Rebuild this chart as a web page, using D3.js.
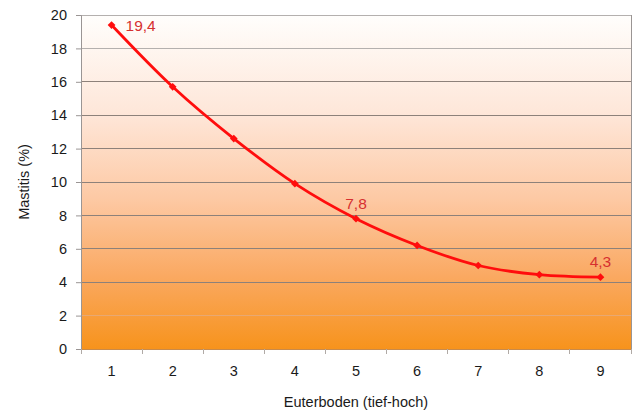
<!DOCTYPE html>
<html>
<head>
<meta charset="utf-8">
<script src="https://cdn.jsdelivr.net/npm/d3@7/dist/d3.min.js"></script>
<style>
  html, body { margin: 0; padding: 0; background: #fff; }
  svg { display: block; font-family: "Liberation Sans", Arial, sans-serif; }
</style>
</head>
<body>
<svg id="chart" width="634" height="414"></svg>
<script>
// Mastitis rate by udder floor height score
const categories = [1, 2, 3, 4, 5, 6, 7, 8, 9];
const mastitis = [19.4, 15.7, 12.6, 9.9, 7.8, 6.2, 5.0, 4.45, 4.3];
const yTicks = [0, 2, 4, 6, 8, 10, 12, 14, 16, 18, 20];
const labelled = [
  { cat: 1, value: 19.4, text: "19,4", pos: "right" },
  { cat: 5, value: 7.8, text: "7,8", pos: "above" },
  { cat: 9, value: 4.3, text: "4,3", pos: "above" }
];

const svg = d3.select("#chart");
const plot = { left: 81, right: 631, top: 15, bottom: 349 };

const x = d3.scaleBand().domain(categories).range([plot.left, plot.right]);
const y = d3.scaleLinear().domain([0, 20]).range([plot.bottom, plot.top]);

// background gradient of the plot area
const defs = svg.append("defs");
const grad = defs.append("linearGradient")
  .attr("id", "bg").attr("x1", 0).attr("y1", 0).attr("x2", 0).attr("y2", 1);
[[0, "#fffefc"], [0.3, "#fee6d8"], [0.55, "#fdc9a4"], [0.78, "#faa962"], [1, "#f7931c"]]
  .forEach(([o, c]) => grad.append("stop").attr("offset", o).attr("stop-color", c));

svg.append("rect")
  .attr("x", plot.left).attr("y", plot.top)
  .attr("width", plot.right - plot.left).attr("height", plot.bottom - plot.top)
  .attr("fill", "url(#bg)");

// horizontal gridlines
svg.append("g").selectAll("line")
  .data(yTicks.filter(d => d > 0))
  .join("line")
  .attr("x1", plot.left).attr("x2", plot.right)
  .attr("y1", d => y(d)).attr("y2", d => y(d))
  .attr("stroke", d => d >= 18 ? "#b4b0ae" : (d === 2 ? "#e8a872" : "#8d817a"))
  .attr("stroke-width", 1)
  .attr("shape-rendering", "crispEdges");

// right border
svg.append("line")
  .attr("x1", plot.right).attr("x2", plot.right)
  .attr("y1", plot.top).attr("y2", plot.bottom)
  .attr("stroke", "#9a9594").attr("shape-rendering", "crispEdges");

// y axis
const yAxis = svg.append("g")
  .attr("transform", `translate(${plot.left},0)`)
  .call(d3.axisLeft(y).tickValues(yTicks).tickSize(5).tickPadding(9));
yAxis.select(".domain").attr("stroke", "#9a9594");
yAxis.selectAll(".tick line").attr("stroke", "#9a9594");
yAxis.selectAll("text").attr("font-size", 14.5).attr("fill", "#1a1a1a");

// x axis: ticks between categories
const xAxis = svg.append("g")
  .attr("transform", `translate(0,${plot.bottom})`);
xAxis.append("line")
  .attr("x1", plot.left).attr("x2", plot.right)
  .attr("stroke", "#c98a4a").attr("shape-rendering", "crispEdges");
const boundaries = categories.map(c => x(c)).concat([x(categories[categories.length - 1]) + x.bandwidth()]);
xAxis.selectAll("line.tk").data(boundaries).join("line")
  .attr("class", "tk")
  .attr("x1", d => d).attr("x2", d => d)
  .attr("y1", 0).attr("y2", 5)
  .attr("stroke", "#b0aaa6").attr("shape-rendering", "crispEdges");
xAxis.selectAll("text").data(categories).join("text")
  .attr("x", d => x(d) + x.bandwidth() / 2)
  .attr("y", 27)
  .attr("text-anchor", "middle")
  .attr("font-size", 14.5)
  .attr("fill", "#1a1a1a")
  .text(d => d);

// axis titles
svg.append("text")
  .attr("x", (plot.left + plot.right) / 2).attr("y", 407)
  .attr("text-anchor", "middle").attr("font-size", 14.5).attr("fill", "#1a1a1a")
  .text("Euterboden (tief-hoch)");
svg.append("text")
  .attr("transform", `translate(29,${(plot.top + plot.bottom) / 2}) rotate(-90)`)
  .attr("text-anchor", "middle").attr("font-size", 14.5).attr("fill", "#1a1a1a")
  .text("Mastitis (%)");

// smoothed line
const cx = d => x(d) + x.bandwidth() / 2;
const line = d3.line()
  .x((d, i) => cx(categories[i]))
  .y(d => y(d))
  .curve(d3.curveCatmullRom.alpha(0.5));
svg.append("path")
  .datum(mastitis)
  .attr("d", line)
  .attr("fill", "none")
  .attr("stroke", "#ff0d0d")
  .attr("stroke-width", 2.8)
  .attr("stroke-linejoin", "round");

// diamond markers (square turned 45°)
svg.append("g").selectAll("path")
  .data(mastitis)
  .join("path")
  .attr("transform", (d, i) => `translate(${cx(categories[i])},${y(d)}) rotate(45)`)
  .attr("d", d3.symbol(d3.symbolSquare, 30))
  .attr("fill", "#ff0d0d");

// value labels
svg.append("g").selectAll("text")
  .data(labelled)
  .join("text")
  .attr("x", d => d.pos === "right" ? cx(d.cat) + 14 : cx(d.cat))
  .attr("y", d => d.pos === "right" ? y(d.value) + 6 : y(d.value) - 10)
  .attr("text-anchor", d => d.pos === "right" ? "start" : "middle")
  .attr("font-size", 15.5)
  .attr("fill", "#d63030")
  .text(d => d.text);
</script>
</body>
</html>
